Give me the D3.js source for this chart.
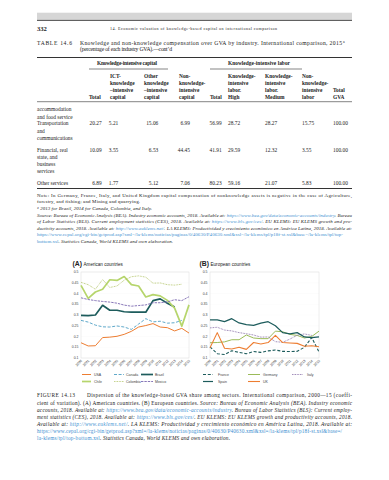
<!DOCTYPE html>
<html>
<head>
<meta charset="utf-8">
<script src="https://cdn.jsdelivr.net/npm/d3@7"></script>
<style>
  body { margin: 0; background: #fff; }
  svg { display: block; }
  .serif { font-family: "Liberation Serif", "DejaVu Serif", serif; fill: #222; }
  .sans { font-family: "Liberation Sans", Arial, sans-serif; fill: #444; }
  .link { fill: #3d8fd1; }
</style>
</head>
<body>
<svg id="page" width="389" height="480"></svg>
<script>
// ---- chart data ----
const years = [2000, 2001, 2002, 2003, 2004, 2005, 2006, 2007, 2008, 2009, 2010, 2011, 2012, 2013, 2014, 2015];
const yTicks = [0.1, 0.15, 0.2, 0.25, 0.3, 0.35, 0.4, 0.45, 0.5];

const usa      = [0.171, 0.156, 0.157, 0.195, 0.197, 0.201, 0.21, 0.224, 0.244, 0.251, 0.26, 0.244, 0.241, 0.226, 0.238, 0.216];
const canada   = [0.275, 0.267, 0.253, 0.245, 0.244, 0.249, 0.244, 0.233, 0.258, 0.283, 0.268, 0.271, 0.262, 0.264, 0.275, null];
const brazil   = [0.298, 0.297, 0.3, 0.345, 0.322, 0.322, 0.315, 0.313, 0.314, 0.313, 0.367, 0.375, 0.355, 0.337, null, null];
const chile    = [0.438, 0.377, 0.407, 0.42, 0.464, 0.461, 0.479, 0.441, 0.435, 0.384, 0.395, 0.389, 0.368, 0.332, 0.248, 0.347];
const colombia = [0.452, 0.441, 0.42, 0.465, 0.428, 0.435, 0.462, 0.478, 0.482, 0.476, 0.448, 0.449, 0.441, 0.439, 0.443, null];
const mexico   = [0.38, 0.372, 0.367, 0.363, 0.36, 0.355, 0.346, 0.341, 0.344, 0.347, 0.357, 0.357, 0.361, 0.371, 0.367, 0.385];

const france   = [0.152, 0.12, 0.116, 0.134, 0.126, 0.12, 0.13, 0.126, 0.133, 0.137, 0.131, 0.13, 0.131, 0.15, 0.195, 0.128];
const germany  = [0.171, 0.172, 0.175, 0.185, 0.185, 0.207, 0.193, 0.19, 0.19, 0.225, 0.222, 0.21, 0.205, 0.193, 0.2, 0.225];
const italy    = [0.24, 0.243, 0.23, 0.226, 0.218, 0.213, 0.207, 0.197, 0.198, 0.176, 0.173, 0.188, 0.206, 0.212, 0.205, null];
const spain    = [0.277, 0.277, 0.269, 0.283, 0.263, 0.255, 0.252, 0.262, 0.269, 0.25, 0.218, 0.212, 0.218, 0.198, 0.195, 0.198];
const uk       = [0.148, 0.218, 0.145, 0.142, 0.15, 0.14, 0.172, 0.165, 0.172, 0.205, 0.172, 0.17, 0.168, 0.155, 0.157, 0.152];

const seriesA = [
  { name: "USA", values: usa, color: "#ed7d31", width: 1, dash: null },
  { name: "Canada", values: canada, color: "#4e9fc4", width: 0.9, dash: "3,1.6" },
  { name: "Brazil", values: brazil, color: "#1d5c5c", width: 1.7, dash: null },
  { name: "Chile", values: chile, color: "#b6d56c", width: 1.7, dash: null },
  { name: "Colombia", values: colombia, color: "#a5ba4e", width: 0.8, dash: "0.8,0.8" },
  { name: "Mexico", values: mexico, color: "#7a68b0", width: 0.9, dash: "2.4,1" },
];
const seriesB = [
  { name: "France", values: france, color: "#1d5c5c", width: 1.1, dash: "3,1.8" },
  { name: "Germany", values: germany, color: "#9bbb59", width: 1, dash: null },
  { name: "Italy", values: italy, color: "#8064a2", width: 0.9, dash: "0.8,0.8" },
  { name: "Spain", values: spain, color: "#1d5c5c", width: 1.2, dash: null },
  { name: "UK", values: uk, color: "#ed7d31", width: 1.1, dash: null },
];

// ---- table data ----
const rowLabels = [
  ["accommodation", "and food service", "Transportation", "and", "communications"],
  ["Financial, real", "state, and", "business", "services"],
  ["Other services"],
];
const transport = ["20.27", "5.21", "15.06", "6.99", "56.99", "28.72", "28.27", "15.75", "100.00"];
const financial = ["10.09", "3.55", "6.53", "44.45", "41.91", "29.59", "12.32", "3.55", "100.00"];
const otherServ = ["6.89", "1.77", "5.12", "7.06", "80.23", "59.16", "21.07", "5.83", "100.00"];
const colHeads = [
  ["", "", "", "Total"],
  ["ICT-", "knowledge", "\u2013intensive", "capital"],
  ["Other", "knowledge", "\u2013intensive", "capital"],
  ["Non-", "knowledge-", "intensive", "capital"],
  ["", "", "", "Total"],
  ["Knowledge-", "intensive", "labor.", "High"],
  ["Knowledge-", "intensive", "labor.", "Medium"],
  ["Non-", "knowledge-", "intensive", "labor"],
  ["", "", "Total", "GVA"],
];

// ~ toggles italic, | toggles link colour
const noteLines = [
  "Note: In Germany, France, Italy, and United Kingdom capital compensation of nonknowledge assets is negative in the case of Agriculture,",
  "forestry, and fishing; and Mining and quarrying.",
  "~\u1d43 2013 for Brazil, 2014 for Canada, Colombia, and Italy.~",
  "~Source: Bureau of Economic Analysis (BEA). Industry economic accounts, 2018. Available at: |https://www.bea.gov/data/economic-accounts/industry|. Bureau~",
  "~of Labor Statistics (BLS). Current employment statistics (CES), 2018. Available at: |https://www.bls.gov/ces/|. EU KLEMS: EU KLEMS growth and pro-~",
  "~ductivity accounts, 2018. Available at: |http://www.euklems.net/|. LA KLEMS: Productividad y crecimiento económico en América Latina, 2018. Available at:~",
  "|https://www.cepal.org/cgi-bin/getprod.asp?xml=/la-klems/noticias/paginas/0/40630/P40630.xml&xsl=/la-klems/tpl/p18f-st.xsl&base=/la-klems/tpl/top-|",
  "|bottom.xsl|~. Statistics Canada, World KLEMS and own elaboration.~",
];
const noteWidths = [315, 103, 115, 315, 315, 315, 306, 136];

const captionLines = [
  "Dispersion of the knowledge-based GVA share among sectors. International comparison, 2000\u201415 (coeffi-",
  "cient of variation). (A) American countries. (B) European countries. ~Source: Bureau of Economic Analysis (BEA). Industry economic~",
  "~accounts, 2018. Available at: |https://www.bea.gov/data/economic-accounts/industry|. Bureau of Labor Statistics (BLS): Current employ-~",
  "~ment statistics (CES), 2018. Available at: |https://www.bls.gov/ces/|. EU KLEMS: EU KLEMS growth and productivity accounts, 2018.~",
  "~Available at: |http://www.euklems.net/|. LA KLEMS: Productividad y crecimiento económico en América Latina, 2018. Available at:~",
  "|https://www.cepal.org/cgi-bin/getprod.asp?xml=/la-klems/noticias/paginas/0/40630/P40630.xml&xsl=/la-klems/tpl/p18f-st.xsl&base=/|",
  "|la-klems/tpl/top-bottom.xsl|~. Statistics Canada, World KLEMS and own elaboration.~",
];
const captionWidths = [265, 315, 315, 315, 315, 305, 193];

const svg = d3.select("#page");

// write a line with ~italic~ and |link| markup, stretched to width w
const writeLine = (x, y, str, size, w) => {
  const t = svg.append("text").attr("class", "serif")
    .attr("x", x).attr("y", y).attr("font-size", size);
  if (w) t.attr("textLength", w).attr("lengthAdjust", "spacing");
  let italic = false, link = false, buf = "";
  const flush = () => {
    if (!buf) return;
    t.append("tspan").text(buf)
      .attr("font-style", italic ? "italic" : null)
      .attr("class", link ? "link" : null);
    buf = "";
  };
  for (const ch of str) {
    if (ch === "~") { flush(); italic = !italic; }
    else if (ch === "|") { flush(); link = !link; }
    else buf += ch;
  }
  flush();
  return t;
};

// ---- page header ----
svg.append("rect").attr("x", 37).attr("y", 12.7).attr("width", 315).attr("height", 7.3).attr("fill", "#d6d6d6");
svg.append("line").attr("x1", 37).attr("x2", 352).attr("y1", 20.4).attr("y2", 20.4).attr("stroke", "#3a3a3a").attr("stroke-width", 0.9);
svg.append("text").attr("class", "serif").attr("x", 37).attr("y", 30.6).attr("font-size", 6.6).attr("font-weight", "bold").text("332");
writeLine(110, 30.2, "14. Economic valuation of knowledge-based capital on international comparison", 4.1, 167);

writeLine(37, 44.8, "TABLE 14.6", 5.6, 35);
writeLine(80, 44.8, "Knowledge and non-knowledge compensation over GVA by industry. International comparison, 2015", 5.7, 262);
svg.append("text").attr("class", "serif").attr("x", 343).attr("y", 42.6).attr("font-size", 3.8).text("a");
writeLine(80, 51.4, "(percentage of each industry GVA).\u2014cont\u2019d", 5.7, 92);

// ---- table ----
const rule = (y, w) => svg.append("line").attr("x1", 37).attr("x2", 352)
  .attr("y1", y).attr("y2", y).attr("stroke", "#333").attr("stroke-width", w);
rule(57.5, 1);
svg.append("text").attr("class", "serif").attr("x", 97).attr("y", 65.3).attr("font-size", 5.4)
  .attr("font-weight", "bold").attr("textLength", 60).text("Knowledge-intensive capital");
svg.append("text").attr("class", "serif").attr("x", 228).attr("y", 65.3).attr("font-size", 5.4)
  .attr("font-weight", "bold").attr("textLength", 62).text("Knowledge-intensive labor");
svg.append("line").attr("x1", 89).attr("x2", 168).attr("y1", 69).attr("y2", 69).attr("stroke", "#333").attr("stroke-width", 0.6);
svg.append("line").attr("x1", 210).attr("x2", 302).attr("y1", 69).attr("y2", 69).attr("stroke", "#333").attr("stroke-width", 0.6);

const headX = [89, 110, 144, 179, 210, 228, 265, 302, 333];
const headY = [78, 85.1, 92, 98.7];
colHeads.forEach((lines, i) => {
  lines.forEach((s, j) => {
    if (!s) return;
    svg.append("text").attr("class", "serif").attr("x", headX[i]).attr("y", headY[j])
      .attr("font-size", 5.4).attr("font-weight", "bold").text(s);
  });
});
rule(101.7, 0.6);

const labelY = [[111.2, 118.5, 125.2, 132.8, 140.2], [151.9, 158.6, 165.9, 172.6], [185.2]];
rowLabels.forEach((lines, i) => lines.forEach((s, j) => {
  svg.append("text").attr("class", "serif").attr("x", 37).attr("y", labelY[i][j]).attr("font-size", 5.4).text(s);
}));

const rightEdges = [101.7, 118.3, 158.3, 190, 221.7];
const rowValues = [transport, financial, otherServ];
const rowY = [125.2, 151.9, 185.2];
rowValues.forEach((vals, r) => vals.forEach((v, c) => {
  const right = c < 5;
  svg.append("text").attr("class", "serif")
    .attr("x", right ? rightEdges[c] : headX[c]).attr("y", rowY[r])
    .attr("text-anchor", right ? "end" : "start").attr("font-size", 5.4).text(v);
}));
rule(188.5, 1);

noteLines.forEach((s, i) => writeLine(37, 196.8 + i * 6.6, s, 4.9, noteWidths[i]));

// ---- charts ----
const y = d3.scaleLinear().domain([0.1, 0.5]).range([358, 272]);
const fmt = d => d3.format("~g")(d);

const drawPanel = (letter, title, x0, x1, series, legendCols, titleX) => {
  const x = d3.scalePoint().domain(years).range([x0, x1]);
  const g = svg.append("g");

  // faint grid and frame
  g.selectAll(".grid").data(yTicks).join("line")
    .attr("x1", x0).attr("x2", x1).attr("y1", d => y(d)).attr("y2", d => y(d))
    .attr("stroke", "#f4f4f4").attr("stroke-width", 0.3);
  g.append("rect").attr("x", x0).attr("y", y(0.5)).attr("width", x1 - x0).attr("height", y(0.1) - y(0.5))
    .attr("fill", "none").attr("stroke", "#dcdcdc").attr("stroke-width", 0.5);

  // y axis labels
  g.selectAll(".ylab").data(yTicks).join("text")
    .attr("class", "sans").attr("x", x0 - 2.5).attr("y", d => y(d) + 1.2)
    .attr("text-anchor", "end").attr("font-size", 3.5).text(fmt);

  // x axis labels, rotated
  g.selectAll(".xlab").data(years).join("text")
    .attr("class", "sans").attr("text-anchor", "end").attr("font-size", 3.5)
    .attr("transform", d => `translate(${x(d) + 1.5},${361}) rotate(-45)`)
    .text(d => d);

  const line = d3.line()
    .defined(d => d[1] != null)
    .x(d => x(d[0])).y(d => y(d[1]));

  g.selectAll(".series").data(series).join("path")
    .attr("d", s => line(years.map((yr, i) => [yr, s.values[i]])))
    .attr("fill", "none")
    .attr("stroke", s => s.color)
    .attr("stroke-width", s => s.width)
    .attr("stroke-dasharray", s => s.dash)
    .attr("stroke-linejoin", "round");

  // panel title
  svg.append("text").attr("class", "sans").attr("x", titleX).attr("y", 266.3)
    .attr("font-size", 6.8).attr("font-weight", "bold").style("fill", "#222").text(`(${letter})`);
  svg.append("text").attr("class", "sans").attr("x", titleX + 11).attr("y", 266.3)
    .attr("font-size", 4.6).style("fill", "#222").text(title);

  // legend
  series.forEach((s, i) => {
    const col = legendCols[i % 3];
    const ly = i < 3 ? 374.5 : 381.5;
    svg.append("line").attr("x1", col[0]).attr("x2", col[1]).attr("y1", ly).attr("y2", ly)
      .attr("stroke", s.color).attr("stroke-width", s.width).attr("stroke-dasharray", s.dash);
    svg.append("text").attr("class", "sans").attr("x", col[2]).attr("y", ly + 1.2)
      .attr("font-size", 3.5).text(s.name);
  });
};

drawPanel("A", "American countries", 81, 189, seriesA, [[82, 91, 94], [114, 124, 126], [141, 153, 155]], 72.5);
drawPanel("B", "European countries", 210, 319, seriesB, [[203, 213, 218], [248, 260, 263], [292, 303, 307]], 199.5);

// ---- figure caption ----
svg.append("text").attr("class", "serif").attr("x", 37).attr("y", 397.4).attr("font-size", 5.4)
  .attr("textLength", 38).text("FIGURE 14.13");
captionLines.forEach((s, i) => writeLine(i === 0 ? 87 : 37, 397.4 + i * 7.15, s, 5.3, captionWidths[i]));
</script>
</body>
</html>
